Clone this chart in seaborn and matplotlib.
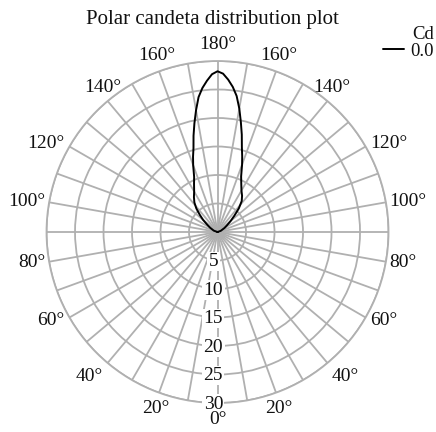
import numpy as np
import matplotlib
matplotlib.use('Agg')
import matplotlib.pyplot as plt
import seaborn as sns
import pandas as pd

sns.set_theme(style='white')
plt.rcParams['font.family'] = ['Liberation Serif', 'DejaVu Serif']

# ---- data (angles in degrees, 0 at bottom, 180 at top; left half 0-180, right half 180-360)
theta_deg = [90, 110, 120, 125, 130, 134, 138, 142, 146, 150, 154, 157, 160,
             162, 164, 166, 168, 170, 172, 174, 176, 178, 180,
             182, 184, 186, 188, 190, 192, 194, 196, 198, 200, 203, 206,
             210, 214, 218, 222, 226, 230, 235, 240, 250, 270]
cd = [0.0, 0.7, 1.5, 2.15, 3.3, 4.3, 5.55, 6.6, 7.4, 8.2, 9.4, 10.5, 12.5,
      13.9, 15.3, 17.4, 19.5, 21.7, 23.9, 25.4, 26.6, 27.7, 28.2,
      27.8, 26.8, 25.6, 24.1, 22.0, 19.7, 17.6, 15.5, 14.0, 12.6, 10.6, 9.5,
      8.4, 7.7, 6.9, 5.6, 4.1, 3.0, 2.0, 1.4, 0.6, 0.0]
series_name = "0.0"
legend_title = "Cd"
title = "Polar candeta distribution plot"
angle_ticks = list(range(0, 360, 20))
angle_labels = [f"{a if a <= 180 else 360 - a}\u00b0" for a in angle_ticks]
radial_ticks = [5, 10, 15, 20, 25, 30]
radial_labels = ["5", "10", "15", "20", "25", "30"]

grid_col = '#b0b0b0'
text_col = '#111111'

fig = plt.figure(figsize=(4.36, 4.32), dpi=100)
ax = fig.add_axes([0.1067, 0.0671, 0.7844, 0.7917], projection='polar')

df = pd.DataFrame({'theta': np.deg2rad(theta_deg), 'cd': cd, 'plane': series_name})
sns.lineplot(data=df, x='theta', y='cd', hue='plane', palette=['black'],
             sort=False, ax=ax, linewidth=1.4, legend=False)

ax.set_theta_zero_location('S')
ax.set_theta_direction(-1)
ax.set_ylim(0, 30)
ax.set_xticks(np.deg2rad(np.arange(0, 360, 10)))
ax.set_xticklabels([])
ax.set_yticks(radial_ticks)
ax.set_yticklabels([])
ax.set_xlabel('')
ax.set_ylabel('')
ax.grid(True, color=grid_col, linewidth=1.3)
ax.spines['polar'].set_color(grid_col)
ax.spines['polar'].set_linewidth(1.3)
ax.set_facecolor('white')

for r, lab in zip(radial_ticks, radial_labels):
    ax.annotate(lab, xy=(0, r), xytext=(-3, -0.8), textcoords='offset points',
                ha='center', va='center', fontsize=14, color=text_col,
                bbox=dict(facecolor='white', edgecolor='none', pad=1.0), zorder=5)

for a, lab in zip(angle_ticks, angle_labels):
    t = np.deg2rad(a)
    ux, uy = -np.sin(t), -np.cos(t)
    if abs(ux) < 0.5 or (abs(ux) < 0.7 and uy > 0):
        ha = 'center'
    else:
        ha = 'right' if ux < 0 else 'left'
    if uy > 0.6:
        va = 'bottom'
    elif uy < -0.6:
        va = 'top'
    else:
        va = 'center'
    pad = 2 + 4 * abs(uy)
    if a == 0:
        pad = 5.5
    ax.annotate(lab, xy=(t, 30), xytext=(ux * pad, uy * pad), textcoords='offset points',
                ha=ha, va=va, fontsize=14, color=text_col, annotation_clip=False, zorder=6)

fig.text(0.488, 0.956, title, ha='center', va='center', fontsize=15, color=text_col)

line = ax.lines[0]
leg = fig.legend([line], [series_name], title=legend_title, loc='upper right',
                 bbox_to_anchor=(1.012, 0.958), frameon=False, handlelength=1.1,
                 handletextpad=0.35, fontsize=13.5, title_fontsize=13.5,
                 borderaxespad=0.0, alignment='right', labelspacing=0.2)
leg.get_title().set_color(text_col)
for txt in leg.get_texts():
    txt.set_color(text_col)
leg._legend_box.sep = 0

fig.savefig('out.png', dpi=100, facecolor='white')
